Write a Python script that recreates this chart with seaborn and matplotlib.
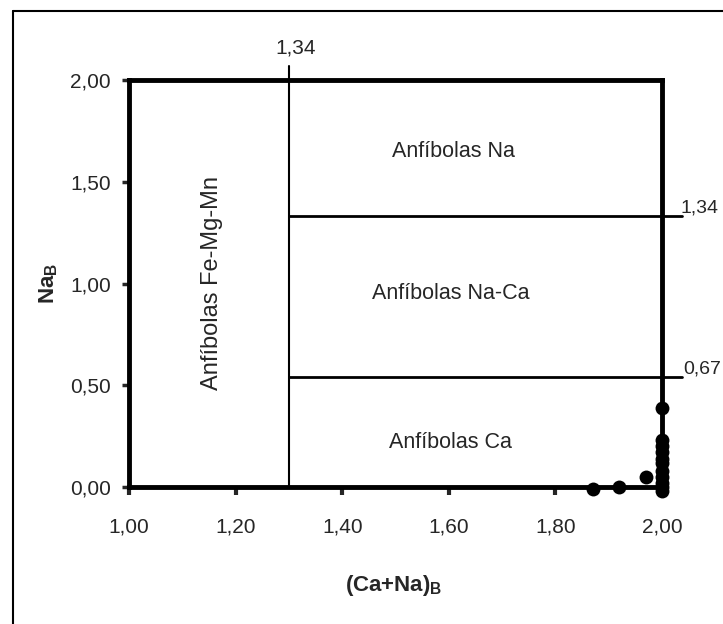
import matplotlib
matplotlib.use("Agg")
import matplotlib.pyplot as plt
import seaborn as sns
import pandas as pd
from matplotlib.lines import Line2D

# Sample compositions (Ca+Na)_B vs Na_B
ca_na_b = [1.87, 1.92, 1.97, 2.00, 2.00, 2.00, 2.00, 2.00, 2.00, 2.00, 2.00, 2.00, 2.00, 2.00]
na_b = [-0.01, 0.00, 0.05, 0.39, 0.23, 0.20, 0.17, 0.14, 0.12, 0.08, 0.05, 0.02, 0.00, -0.02]

# Field boundaries as drawn
divider_x = 1.30
upper_y = 1.33
lower_y = 0.54

x_ticks = [1.0, 1.2, 1.4, 1.6, 1.8, 2.0]
y_ticks = [0.0, 0.5, 1.0, 1.5, 2.0]

df = pd.DataFrame({"ca_na": ca_na_b, "na": na_b})

sns.set_theme(style="white")
plt.rcParams["font.family"] = ["Liberation Sans", "DejaVu Sans"]
plt.rcParams["mathtext.fontset"] = "custom"
plt.rcParams["mathtext.bf"] = "Liberation Sans:bold"
plt.rcParams["mathtext.rm"] = "Liberation Sans"

fig = plt.figure(figsize=(7.23, 6.24), dpi=100)
ax = fig.add_axes([129 / 723, 1 - 487 / 624, 533 / 723, 407 / 624])

sns.scatterplot(data=df, x="ca_na", y="na", ax=ax, color="black", s=100,
                edgecolor="black", linewidth=0, clip_on=False, zorder=5, legend=False)

# classification lines
ax.plot([divider_x, divider_x], [0, 2.07], color="black", lw=1.5, clip_on=False)
ax.plot([divider_x, 2.037], [upper_y, upper_y], color="black", lw=2, clip_on=False)
ax.plot([divider_x, 2.037], [lower_y, lower_y], color="black", lw=2, clip_on=False)

ax.text(1.313, 2.11, "1,34", ha="center", va="bottom", fontsize=15)
ax.text(2.034, 1.33, "1,34", ha="left", va="bottom", fontsize=14)
ax.text(2.04, 0.54, "0,67", ha="left", va="bottom", fontsize=14)

ax.text(1.608, 1.65, "Anfíbolas Na", ha="center", va="center", fontsize=15.5)
ax.text(1.603, 0.95, "Anfíbolas Na-Ca", ha="center", va="center", fontsize=15.5)
ax.text(1.603, 0.22, "Anfíbolas Ca", ha="center", va="center", fontsize=15.5)
ax.text(1.156, 1.0, "Anfíbolas Fe-Mg-Mn", ha="center", va="center", rotation=90, fontsize=17)

ax.set_xlim(1.0, 2.0)
ax.set_ylim(0.0, 2.0)
ax.set_xticks(x_ticks)
ax.set_yticks(y_ticks)
ax.set_xticklabels([f"{v:.2f}".replace(".", ",") for v in x_ticks], fontsize=15)
ax.set_yticklabels([f"{v:.2f}".replace(".", ",") for v in y_ticks], fontsize=15)
ax.tick_params(axis="x", direction="out", length=6, width=3, pad=16, bottom=True)
ax.tick_params(axis="y", direction="out", length=5, width=2.5, pad=8, left=True)

for sp in ax.spines.values():
    sp.set_linewidth(3.5)
    sp.set_color("black")

ax.set_xlabel(r"(Ca+Na)$_\mathbf{B}$", fontsize=16, fontweight="bold")
ax.set_ylabel(r"Na$_\mathbf{B}$", fontsize=16, fontweight="bold")
ax.xaxis.set_label_coords(0.497, -0.211)
ax.yaxis.set_label_coords(-0.13, 0.5)

# outer frame of the scanned figure (left and top edges)
fig.add_artist(Line2D([13 / 723, 13 / 723], [0, 1 - 11 / 624], transform=fig.transFigure,
                      color="black", lw=1.5))
fig.add_artist(Line2D([13 / 723, 1], [1 - 11 / 624, 1 - 11 / 624], transform=fig.transFigure,
                      color="black", lw=1.5))

fig.savefig("out.png", dpi=100)
